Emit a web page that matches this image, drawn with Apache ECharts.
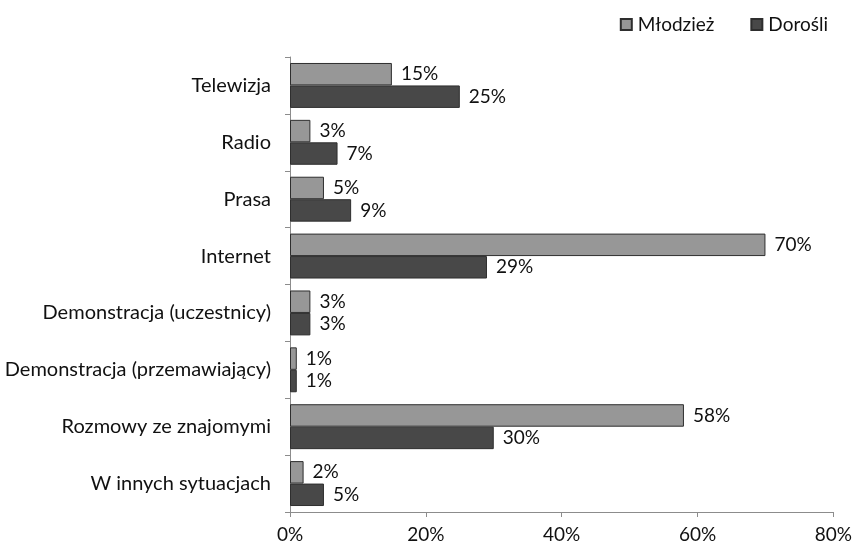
<!DOCTYPE html>
<html>
<head>
<meta charset="utf-8">
<script src="https://cdn.jsdelivr.net/npm/echarts@6/dist/echarts.min.js"></script>
<style>
  html, body { margin: 0; padding: 0; background: #fff; }
  #chart { width: 855px; height: 544px; }
</style>
</head>
<body>
<div id="chart"></div>
<script>
// Source channels, listed top to bottom
const categories = [
  'Telewizja',
  'Radio',
  'Prasa',
  'Internet',
  'Demonstracja (uczestnicy)',
  'Demonstracja (przemawiający)',
  'Rozmowy ze znajomymi',
  'W innych sytuacjach'
];
// Share of respondents, in percent
const mlodziez = [15, 3, 5, 70, 3, 1, 58, 2];
const dorosli = [25, 7, 9, 29, 3, 1, 30, 5];
const xTicks = [0, 20, 40, 60, 80];

const FONT = 'Lato, "Open Sans", sans-serif';
const TEXT = '#111111';
const AXIS = '#8c8c8c';
const SIZE = 19;

const labelStyle = {
  show: true,
  position: 'right',
  distance: 9,
  formatter: p => p.value + '%',
  fontFamily: FONT,
  fontSize: SIZE,
  color: TEXT
};

const chart = echarts.init(document.getElementById('chart'), null, { renderer: 'canvas' });
chart.setOption({
  animation: false,
  backgroundColor: '#ffffff',
  legend: {
    top: 10,
    right: 22,
    itemWidth: 11,
    itemHeight: 11,
    itemGap: 36,
    icon: 'rect',
    textStyle: { fontFamily: FONT, fontSize: SIZE, color: TEXT, padding: [0, 0, 0, 1] },
    data: ['Młodzież', 'Dorośli']
  },
  grid: { left: 290, right: 17, top: 57, bottom: 32, containLabel: false },
  xAxis: {
    type: 'value',
    min: xTicks[0],
    max: xTicks[xTicks.length - 1],
    interval: 20,
    splitLine: { show: false },
    axisLine: { show: true, lineStyle: { color: AXIS, width: 1 } },
    axisTick: { show: true, length: 5, lineStyle: { color: AXIS } },
    axisLabel: {
      formatter: v => v + '%',
      fontFamily: FONT,
      fontSize: SIZE,
      color: TEXT,
      margin: 13
    }
  },
  yAxis: {
    type: 'category',
    data: categories,
    inverse: true,
    axisLine: { show: true, lineStyle: { color: AXIS, width: 1 } },
    axisTick: { show: true, length: 5, lineStyle: { color: AXIS } },
    axisLabel: {
      fontFamily: FONT,
      fontSize: 20,
      color: TEXT,
      margin: 19
    }
  },
  series: [
    {
      name: 'Młodzież',
      type: 'bar',
      data: mlodziez,
      barGap: '0%',
      barCategoryGap: '21%',
      itemStyle: { color: '#979797', borderColor: '#2e2e2e', borderWidth: 1 },
      label: labelStyle
    },
    {
      name: 'Dorośli',
      type: 'bar',
      data: dorosli,
      barGap: '0%',
      barCategoryGap: '21%',
      itemStyle: { color: '#484848', borderColor: '#2e2e2e', borderWidth: 1 },
      label: labelStyle
    }
  ]
});
</script>
</body>
</html>
